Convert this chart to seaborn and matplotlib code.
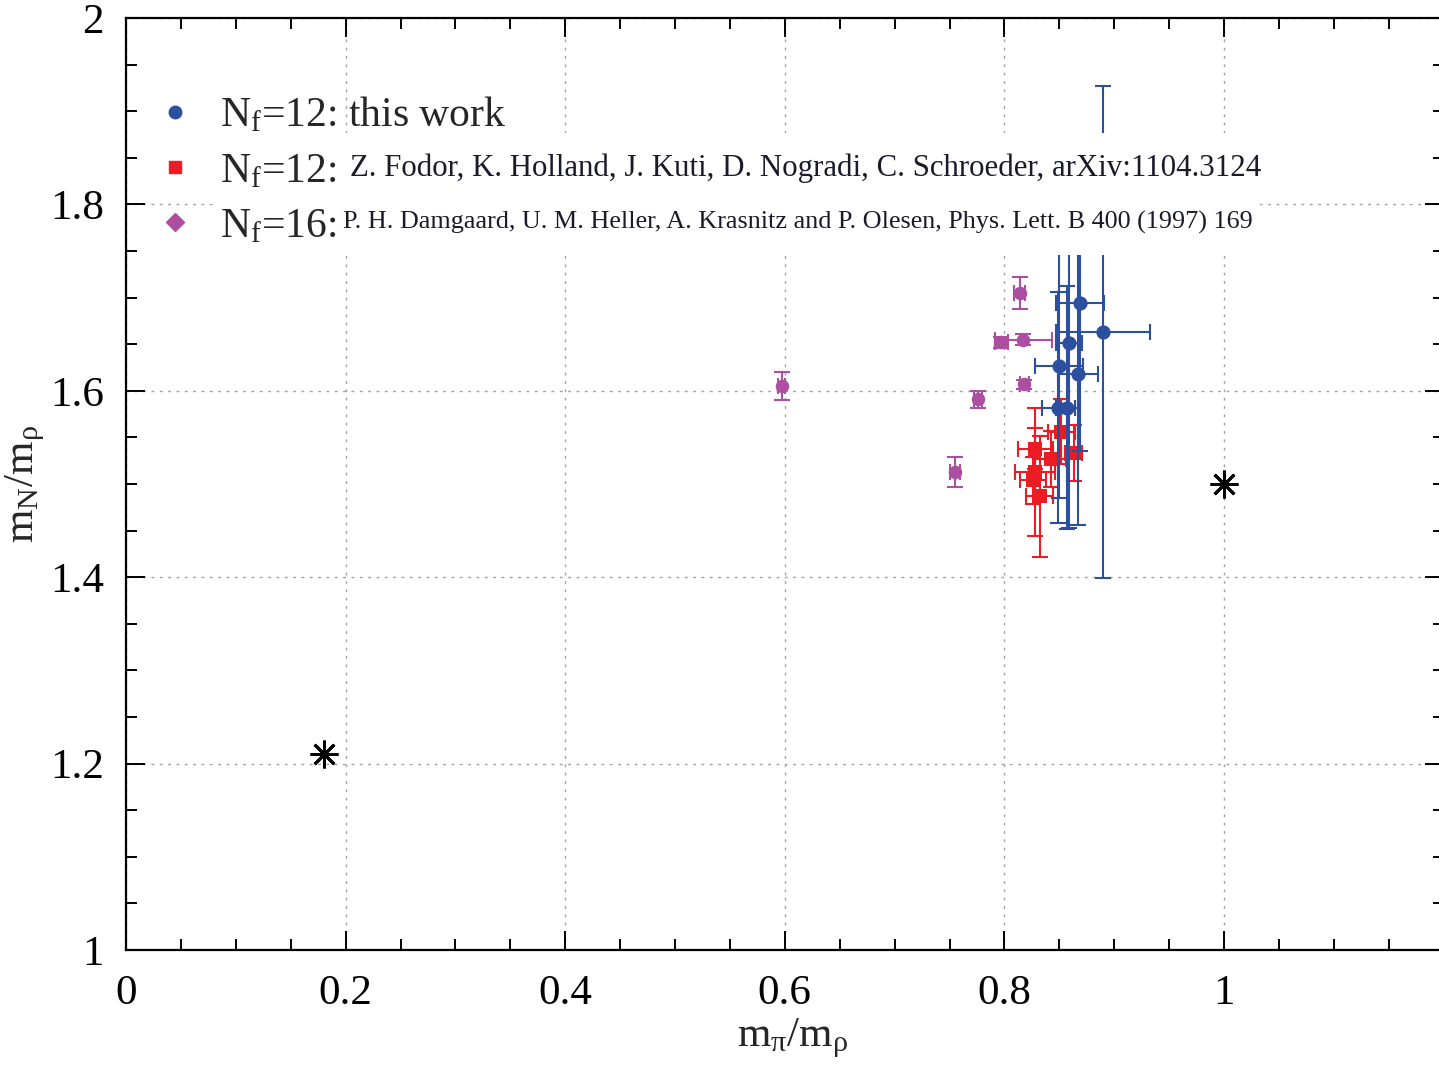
import matplotlib
matplotlib.use("Agg")
import matplotlib.pyplot as plt
from matplotlib.lines import Line2D
from matplotlib.patches import Rectangle
from matplotlib.ticker import MultipleLocator
import pandas as pd
import seaborn as sns

# N_f = 12, this work
this_x = [0.869, 0.890, 0.859, 0.850, 0.867, 0.849, 0.857]
this_y = [1.694, 1.663, 1.651, 1.627, 1.618, 1.582, 1.582]
this_xerr = [0.022, 0.043, 0.012, 0.022, 0.018, 0.015, 0.010]
this_yerr = [0.159, 0.264, 0.198, 0.142, 0.162, 0.124, 0.130]

# N_f = 12, Fodor et al.
fodor_x = [0.852, 0.828, 0.842, 0.863, 0.828, 0.826, 0.832]
fodor_y = [1.556, 1.538, 1.527, 1.533, 1.513, 1.504, 1.487]
fodor_xerr = [0.012, 0.016, 0.014, 0.008, 0.018, 0.012, 0.012]
fodor_yerr = [0.035, 0.022, 0.030, 0.030, 0.069, 0.025, 0.065]

# N_f = 16, Damgaard et al.
damg_x = [0.597, 0.755, 0.776, 0.797, 0.814, 0.817, 0.818]
damg_y = [1.605, 1.513, 1.591, 1.652, 1.705, 1.655, 1.607]
damg_xerr = [0.003, 0.005, 0.004, 0.006, 0.005, 0.026, 0.004]
damg_yerr = [0.015, 0.016, 0.009, 0.006, 0.017, 0.006, 0.005]

# physical point and heavy-quark limit
limit_x = [0.18, 1.0]
limit_y = [1.21, 1.5]

labels = [r"$\mathrm{N_f}$=12: this work", r"$\mathrm{N_f}$=12:", r"$\mathrm{N_f}$=16:"]
citations = ["Z. Fodor, K. Holland, J. Kuti, D. Nogradi, C. Schroeder, arXiv:1104.3124",
             "P. H. Damgaard, U. M. Heller, A. Krasnitz and P. Olesen, Phys. Lett. B 400 (1997) 169"]

BLUE = "#2d4fa0"
RED = "#ec1c24"
PURPLE = "#ad4fa0"

sns.set_style("ticks")
plt.rcParams["font.family"] = ["Liberation Serif", "DejaVu Serif"]
plt.rcParams["mathtext.fontset"] = "custom"
plt.rcParams["mathtext.rm"] = "Liberation Serif"
plt.rcParams["mathtext.it"] = "Liberation Serif:italic"

fig = plt.figure(figsize=(14.39, 10.65), dpi=100)
W, H = 1439, 1065
AX_W, AX_H = 1317.6, 932
ax = fig.add_axes([126 / W, (H - 950) / H, AX_W / W, AX_H / H])


def ax_frac(px, py):
    return (px - 126) / AX_W, (950 - py) / AX_H


frames = {
    "this": pd.DataFrame({"x": this_x, "y": this_y, "xerr": this_xerr, "yerr": this_yerr}),
    "fodor": pd.DataFrame({"x": fodor_x, "y": fodor_y, "xerr": fodor_xerr, "yerr": fodor_yerr}),
    "damg": pd.DataFrame({"x": damg_x, "y": damg_y, "xerr": damg_xerr, "yerr": damg_yerr}),
}
styles = [("damg", PURPLE, "o", 95, 3), ("fodor", RED, "s", 115, 4), ("this", BLUE, "o", 105, 5)]
for key, col, mk, sz, z in styles:
    d = frames[key]
    ax.errorbar(d["x"], d["y"], xerr=d["xerr"], yerr=d["yerr"], fmt="none",
                ecolor=col, elinewidth=1.5, capsize=6, capthick=1.5, zorder=z)
    sns.scatterplot(data=d, x="x", y="y", ax=ax, color=col, marker=mk, s=sz,
                    edgecolor=col, linewidth=0, zorder=z + 0.5, legend=False)

ax.plot(limit_x, limit_y, linestyle="none", marker=(8, 2, 0), markersize=20,
        markeredgewidth=2.0, color="black", zorder=6)

ax.set_xlim(0, 1.2)
ax.set_ylim(1, 2)
ax.xaxis.set_minor_locator(MultipleLocator(0.05))
ax.yaxis.set_minor_locator(MultipleLocator(0.05))
ax.set_xticks([0, 0.2, 0.4, 0.6, 0.8, 1.0])
ax.set_xticklabels(["0", "0.2", "0.4", "0.6", "0.8", "1"])
ax.set_yticks([1, 1.2, 1.4, 1.6, 1.8, 2])
ax.set_yticklabels(["1", "1.2", "1.4", "1.6", "1.8", "2"])
ax.tick_params(which="both", direction="in", top=True, right=True, width=1.4,
               colors="black", labelsize=31)
ax.tick_params(which="major", length=14)
ax.tick_params(axis="x", which="major", pad=18)
ax.tick_params(axis="y", which="major", pad=16)
ax.tick_params(which="minor", length=8)
for s in ax.spines.values():
    s.set_linewidth(1.6)
    s.set_color("black")
ax.grid(True, which="major", color="#a0a0a0", linestyle=(0, (2, 4)), linewidth=1.0)
ax.set_axisbelow(True)

ax.set_xlabel(r"$\mathrm{m_\pi/m_\rho}$", fontsize=31, labelpad=2)
ax.set_ylabel(r"$\mathrm{m_N/m_\rho}$", fontsize=31, labelpad=2)
ax.xaxis.label.set_x((793 - 126) / AX_W)

# white panel behind the citation lines of the key
x0, y0 = ax_frac(215, 255)
x1, y1 = ax_frac(1260, 133)
ax.add_patch(Rectangle((x0, y0), x1 - x0, y1 - y0, transform=ax.transAxes,
                       facecolor="white", edgecolor="none", zorder=7))

handles = [
    Line2D([], [], linestyle="none", marker="o", markersize=9, color=BLUE),
    Line2D([], [], linestyle="none", marker="s", markersize=9, color=RED),
    Line2D([], [], linestyle="none", marker="D", markersize=9, color=PURPLE),
]
leg = ax.legend(handles, labels, loc="upper left", bbox_to_anchor=ax_frac(162, 96),
                frameon=False, fontsize=30, handlelength=0.6, handletextpad=0.78,
                labelspacing=0.40, borderaxespad=0, borderpad=0)
leg.set_zorder(8)

ax.text(*ax_frac(350, 168), citations[0], transform=ax.transAxes,
        fontsize=22.2, va="center", ha="left", color="#1a1a2a", zorder=8)
ax.text(*ax_frac(343, 222), citations[1], transform=ax.transAxes,
        fontsize=18.8, va="center", ha="left", color="#1a1a2a", zorder=8)

fig.savefig("out.png", dpi=100)
